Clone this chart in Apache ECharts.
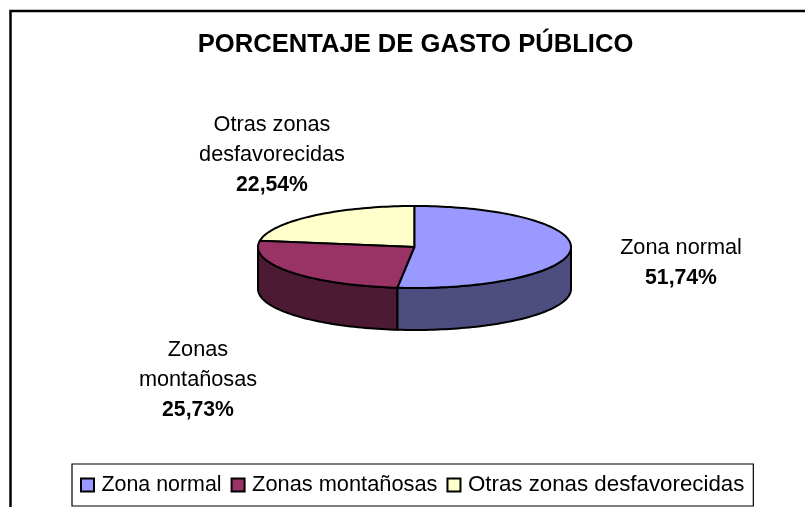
<!DOCTYPE html>
<html>
<head>
<meta charset="utf-8">
<style>html,body{margin:0;padding:0;background:#fff}#c{width:805px;height:507px}</style>
<script src="https://cdn.jsdelivr.net/npm/echarts@6/dist/echarts.min.js"></script>
</head>
<body>
<div id="c"></div>
<script>
var categories = ['Zona normal', 'Zonas montañosas', 'Otras zonas desfavorecidas'];
var percentValues = [51.74, 25.73, 22.54];
var percentLabels = ['51,74%', '25,73%', '22,54%'];
var labelLines = [['Zona normal'], ['Zonas', 'montañosas'], ['Otras zonas', 'desfavorecidas']];
var topColors = ['#9999FF', '#993366', '#FFFFCC'];
var sideColors = ['#4D4D80', '#4D1A33', '#80806A'];
var legendFontSizes = [21.4, 21.8, 22.3];

var FONT = '"Liberation Sans", Arial, sans-serif';
var pie = {cx: 414.5, cy: 247, rx: 156.5, ry: 41, depth: 42};
var labelCenters = [[681, 263], [198, 380], [272, 155]];
var total = percentValues.reduce(function (a, b) { return a + b; }, 0);

function pt(frac, dy) {
  var t = frac * 2 * Math.PI;
  return [pie.cx + pie.rx * Math.sin(t), pie.cy - pie.ry * Math.cos(t) + (dy || 0)];
}
function arc(a, b, dy) {
  var n = Math.max(2, Math.ceil(Math.abs(b - a) * 240)), r = [];
  for (var i = 0; i <= n; i++) r.push(pt(a + (b - a) * i / n, dy));
  return r;
}
function renderSlice(idx) {
  return function () {
    var start = 0;
    for (var i = 0; i < idx; i++) start += percentValues[i] / total;
    var end = start + percentValues[idx] / total;
    var children = [];
    var s = Math.max(start, 0.25), e = Math.min(end, 0.75);
    if (e > s) {
      children.push({
        type: 'polygon', z2: 1,
        shape: {points: arc(s, e, 0).concat(arc(e, s, pie.depth))},
        style: {fill: sideColors[idx], stroke: '#000', lineWidth: 2, lineJoin: 'round'}
      });
    }
    children.push({
      type: 'polygon', z2: 2,
      shape: {points: [[pie.cx, pie.cy]].concat(arc(start, end, 0))},
      style: {fill: topColors[idx], stroke: '#000', lineWidth: 2, lineJoin: 'round'}
    });
    var text = labelLines[idx].map(function (l) { return '{n|' + l + '}'; }).join('\n') + '\n{b|' + percentLabels[idx] + '}';
    children.push({
      type: 'text', z2: 3,
      x: labelCenters[idx][0], y: labelCenters[idx][1],
      style: {
        text: text, align: 'center', verticalAlign: 'middle',
        rich: {
          n: {fontFamily: FONT, fontSize: 21.7, lineHeight: 30, fill: '#000'},
          b: {fontFamily: FONT, fontSize: 21.2, fontWeight: 'bold', lineHeight: 30, fill: '#000'}
        }
      }
    });
    return {type: 'group', children: children};
  };
}

var series = categories.map(function (name, i) {
  return {
    type: 'custom',
    name: name,
    coordinateSystem: 'none',
    silent: true,
    z: 3 - i,
    itemStyle: {color: topColors[i]},
    data: [[percentValues[i]]],
    renderItem: renderSlice(i),
    animation: false
  };
});

var chart = echarts.init(document.getElementById('c'), null, {renderer: 'canvas'});
chart.setOption({
  animation: false,
  backgroundColor: '#fff',
  title: {
    text: 'PORCENTAJE DE GASTO PÚBLICO',
    left: 410.5, top: 27, textAlign: 'center',
    textStyle: {fontFamily: FONT, fontSize: 25.6, fontWeight: 'bold', color: '#000'}
  },
  legend: {
    data: categories.map(function (name, i) {
      return {name: name, textStyle: {fontSize: legendFontSizes[i]}};
    }),
    left: 72, top: 464, width: 730,
    orient: 'horizontal',
    padding: [9, 9, 9, 8],
    itemGap: 9, itemWidth: 13, itemHeight: 13,
    icon: 'rect',
    borderColor: '#000', borderWidth: 1.2, backgroundColor: '#fff',
    itemStyle: {borderColor: '#000', borderWidth: 2},
    textStyle: {fontFamily: FONT, fontSize: 21.8, color: '#000', padding: [0, 0, 0, 2.5], height: 24, lineHeight: 24},
    selectedMode: false
  },
  graphic: [{
    type: 'polyline', silent: true, z: -1,
    shape: {points: [[10.5, 507], [10.5, 11], [805, 11]]},
    style: {fill: null, stroke: '#000', lineWidth: 2.5}
  }],
  series: series
});
</script>
</body>
</html>
